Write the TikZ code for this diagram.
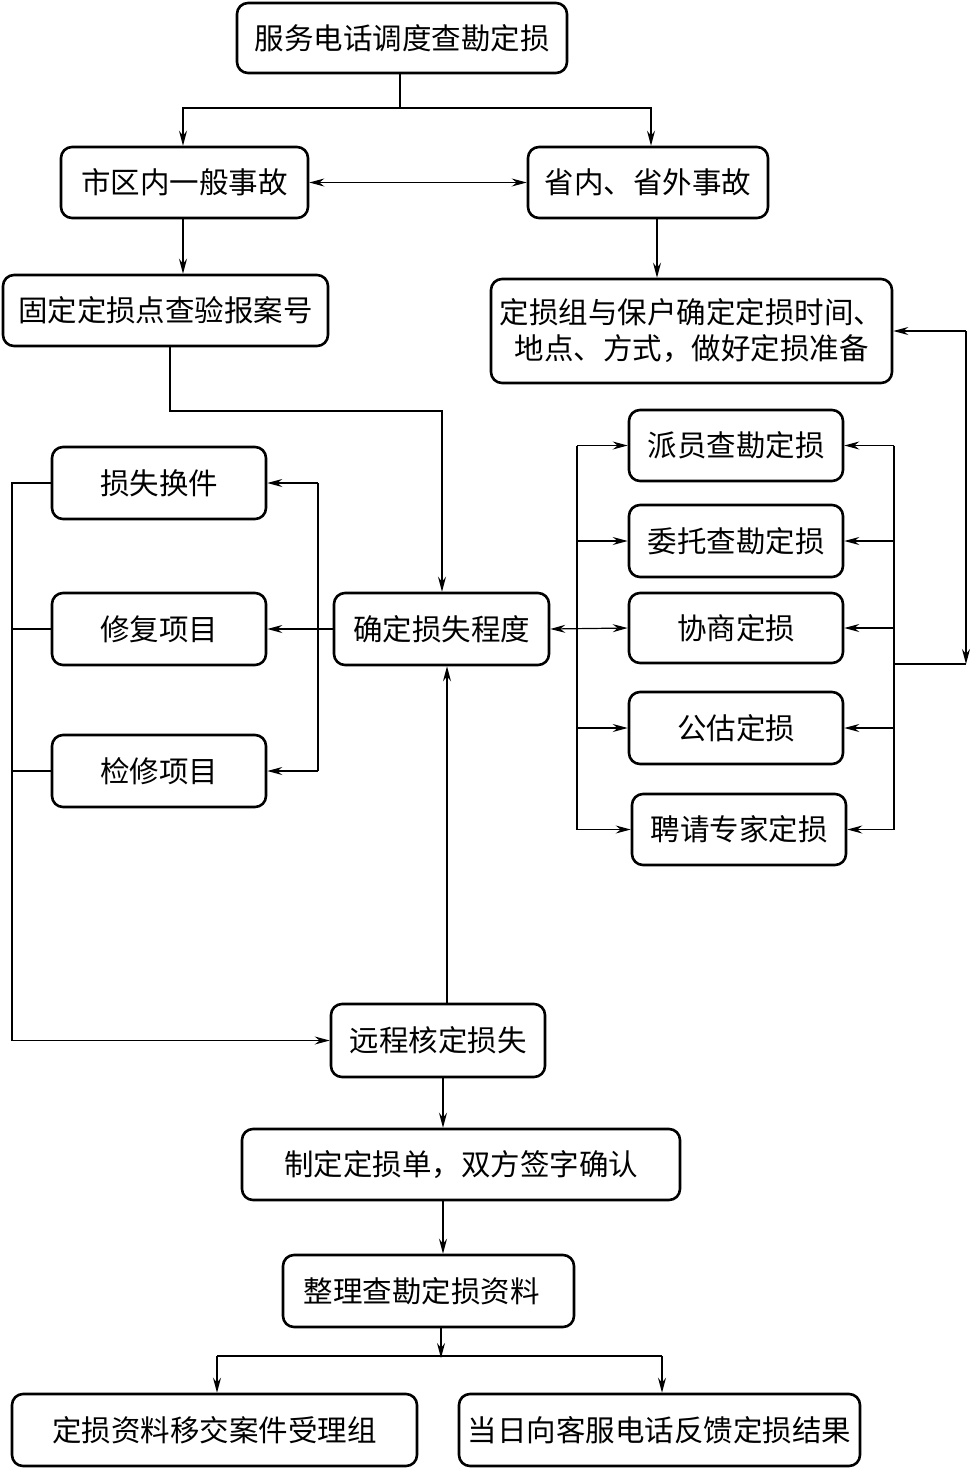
\documentclass[tikz,border=0pt]{standalone}
\usepackage{fontspec}
\setmainfont{Noto Sans CJK SC}
\usetikzlibrary{arrows.meta}
\begin{document}
\begin{tikzpicture}[x=1pt,y=-1pt,
  box/.style={draw, line width=2.6pt, rounded corners=11pt, inner sep=0pt,
    font=\fontsize{29.5}{36}\selectfont, align=center},
  ln/.style={line width=1.2pt},
  tip/.tip={Stealth[length=15pt,width=8pt,inset=5pt]},
  arr/.style={ln, -tip},
  dbl/.style={ln, tip-tip}]
\useasboundingbox (0,0) rectangle (972,1468);

\node[box, minimum width=330pt, minimum height=70pt] (n1) at (402,38) {服务电话调度查勘定损};
\node[box, minimum width=247pt, minimum height=71pt] (n2) at (184.5,182.5) {市区内一般事故};
\node[box, minimum width=240pt, minimum height=71pt] (n3) at (648,182.5) {省内、省外事故};
\node[box, minimum width=325pt, minimum height=71pt] (n4) at (165.5,310.5) {固定定损点查验报案号};
\node[box, minimum width=401pt, minimum height=104pt] (n5) at (691.5,331) {定损组与保户确定定损时间、\\地点、方式，做好定损准备};
\node[box, minimum width=214pt, minimum height=71pt] (n6) at (736,445.5) {派员查勘定损};
\node[box, minimum width=214pt, minimum height=72pt] (n7) at (736,541) {委托查勘定损};
\node[box, minimum width=214pt, minimum height=70pt] (n8) at (736,628) {协商定损};
\node[box, minimum width=214pt, minimum height=72pt] (n9) at (736,728) {公估定损};
\node[box, minimum width=214pt, minimum height=71pt] (n10) at (739,829.5) {聘请专家定损};
\node[box, minimum width=214pt, minimum height=72pt] (n11) at (159,483) {损失换件};
\node[box, minimum width=214pt, minimum height=72pt] (n12) at (159,629) {修复项目};
\node[box, minimum width=214pt, minimum height=72pt] (n13) at (159,771) {检修项目};
\node[box, minimum width=215pt, minimum height=72pt] (n14) at (441.5,629) {确定损失程度};
\node[box, minimum width=214pt, minimum height=73pt] (n15) at (438,1040.5) {远程核定损失};
\node[box, minimum width=438pt, minimum height=71pt] (n16) at (461,1164.5) {制定定损单，双方签字确认};
\node[box, minimum width=291pt, minimum height=72pt] (n17) at (428.5,1291) {整理查勘定损资料\hspace{14pt}};
\node[box, minimum width=405pt, minimum height=72pt] (n18) at (214.5,1430) {定损资料移交案件受理组};
\node[box, minimum width=401pt, minimum height=72pt] (n19) at (659.5,1430) {当日向客服电话反馈定损结果};

% top split
\coordinate (t1) at (400,108);
\draw[ln] (n1.south -| t1) -- (t1);
\draw[arr] (t1) -| ([xshift=-1.5pt]n2.north);
\draw[arr] (t1) -| ([xshift=3pt]n3.north);
\draw[dbl] (n2.east) -- (n3.west);
\draw[arr] ([xshift=-1.5pt]n2.south) -- ([xshift=-1.5pt]n2.south |- n4.north);
\draw[arr] ([xshift=9pt]n3.south) -- ([xshift=9pt]n3.south |- n5.north);

% n4 to n14
\coordinate (k1) at (442,411);
\draw[arr] ([xshift=4.5pt]n4.south) |- (k1) -- (k1 |- n14.north);

% right side buses
\coordinate (rb) at (894,0);
\coordinate (rr) at (966,0);
\coordinate (c1) at (966,664);
\draw[ln] (n6.east -| rb) -- (n10.east -| rb);
\foreach \n in {n6,n7,n8,n9,n10} \draw[arr] (\n.east -| rb) -- (\n.east);
\draw[arr] (n5.east -| rr) -- (n5.east);
\draw[arr] (n5.east -| rr) -- (c1);
\draw[ln] (c1) -- (c1 -| rb);

\coordinate (lb) at (577,0);
\draw[ln] (n6.west -| lb) -- (n10.west -| lb);
\foreach \n in {n6,n7,n9,n10} \draw[arr] (\n.west -| lb) -- (\n.west);
\draw[dbl] (n14.east) -- (n8.west);

% left side
\coordinate (mb) at (318,0);
\draw[arr] (n14.west) -- (n12.east);
\draw[ln] (n11.east -| mb) -- (n13.east -| mb);
\draw[arr] (n11.east -| mb) -- (n11.east);
\draw[arr] (n13.east -| mb) -- (n13.east);

\coordinate (fb) at (12,0);
\draw[arr] (n11.west) -| (fb |- n15.west) -- (n15.west);
\draw[ln] (n12.west) -- (n12.west -| fb);
\draw[ln] (n13.west) -- (n13.west -| fb);

% vertical main
\coordinate (ux) at (447,0);
\draw[arr] (n15.north -| ux) -- (n14.south -| ux);
\coordinate (vx) at (443,0);
\draw[arr] (n15.south -| vx) -- (n16.north -| vx);
\draw[arr] (n16.south -| vx) -- (n17.north -| vx);

% bottom split
\coordinate (t2) at (441,1356);
\draw[arr] (n17.south -| t2) -- ([yshift=-2pt]t2);
\draw[ln] ([xshift=2.5pt]n18.north |- t2) -- ([xshift=2.5pt]n19.north |- t2);
\draw[arr] ([xshift=2.5pt]n18.north |- t2) -- ([xshift=2.5pt]n18.north);
\draw[arr] ([xshift=2.5pt]n19.north |- t2) -- ([xshift=2.5pt]n19.north);
\end{tikzpicture}
\end{document}
